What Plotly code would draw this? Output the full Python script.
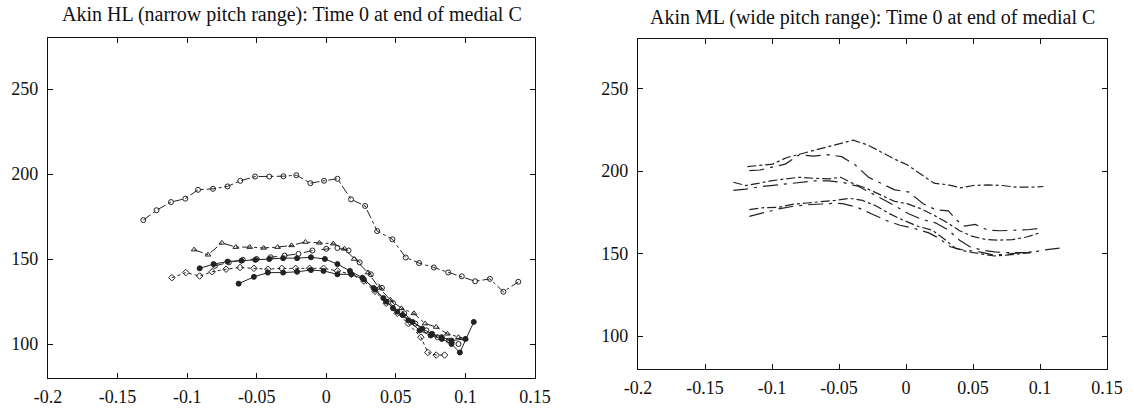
import plotly.graph_objects as go

# ---------------- data: left panel (Akin HL) ----------------
hl1_x = [-0.1315, -0.122, -0.1116, -0.1013, -0.0922, -0.0814, -0.071, -0.0618, -0.0512, -0.041,
         -0.0308, -0.0215, -0.0114, -0.0016, 0.008, 0.0178, 0.0279, 0.0366, 0.0475, 0.0571,
         0.0667, 0.0773, 0.0876, 0.0974, 0.107, 0.1176, 0.1273, 0.138]
hl1_y = [172.9, 178.7, 183.5, 185.5, 190.7, 191.3, 192.7, 196.0, 198.5, 198.5,
         198.7, 199.3, 194.6, 196.0, 197.2, 185.1, 181.2, 166.4, 161.6, 150.9,
         147.6, 145.0, 142.1, 139.8, 136.9, 138.3, 130.7, 136.6]

hl2_x = [-0.095, -0.085, -0.075, -0.065, -0.055, -0.045, -0.035, -0.025, -0.015, -0.005,
         0.005, 0.013, 0.020, 0.030, 0.038, 0.046, 0.054, 0.063, 0.071, 0.079, 0.087, 0.095, 0.100]
hl2_y = [155.5, 152.5, 159.5, 157.0, 157.0, 156.5, 157.0, 158.0, 160.0, 159.5,
         159.0, 156.0, 150.0, 142.0, 133.0, 126.0, 121.0, 118.0, 112.0, 110.0, 106.0, 104.0, 103.0]

hl3_x = [-0.091, -0.081, -0.071, -0.061, -0.051, -0.041, -0.031, -0.021, -0.011, -0.001,
         0.008, 0.017, 0.026, 0.035, 0.043, 0.051, 0.059, 0.067, 0.075, 0.083, 0.090, 0.096, 0.106]
hl3_y = [144.5, 147.0, 148.5, 149.0, 149.5, 150.0, 150.5, 150.5, 151.0, 150.0,
         147.0, 143.0, 139.0, 132.0, 125.0, 119.0, 114.0, 108.0, 105.0, 103.0, 100.0, 95.0, 113.0]

hl4_x = [-0.080, -0.070, -0.060, -0.050, -0.040, -0.030, -0.020, -0.010, 0.000, 0.008,
         0.016, 0.024, 0.032, 0.040, 0.048, 0.056, 0.064, 0.072, 0.080, 0.088, 0.095]
hl4_y = [146.0, 148.0, 149.5, 150.0, 151.0, 152.0, 153.0, 155.0, 156.0, 156.5,
         155.0, 148.0, 141.0, 133.0, 124.0, 118.0, 112.0, 108.0, 104.0, 102.0, 100.0]

hl5_x = [-0.111, -0.101, -0.091, -0.082, -0.072, -0.062, -0.052, -0.042, -0.032, -0.022,
         -0.012, -0.002, 0.008, 0.018, 0.027, 0.035, 0.043, 0.051, 0.059, 0.068, 0.073, 0.079, 0.085]
hl5_y = [139.0, 142.0, 140.0, 142.5, 144.0, 145.0, 144.5, 144.0, 144.5, 144.5,
         144.5, 144.5, 143.0, 141.0, 137.0, 131.0, 124.0, 118.0, 112.0, 104.0, 95.0, 93.5, 93.5]

hl6_x = [-0.063, -0.052, -0.042, -0.031, -0.021, -0.011, -0.002, 0.008, 0.018, 0.027,
         0.034, 0.041, 0.048, 0.055, 0.062, 0.069, 0.076, 0.083, 0.090, 0.100]
hl6_y = [135.5, 139.5, 142.0, 142.0, 142.5, 143.5, 143.0, 141.0, 141.0, 138.0,
         133.0, 127.0, 121.0, 117.0, 113.0, 109.0, 106.0, 104.0, 102.0, 103.0]

# ---------------- data: right panel (Akin ML) ----------------
ml1_x = [-0.1184, -0.0996, -0.0888, -0.0795, -0.0688, -0.0586, -0.0487, -0.0394, -0.0286, -0.0179,
         -0.0085, 0.0008, 0.011, 0.0209, 0.0316, 0.0409, 0.0503, 0.061, 0.0718, 0.0825, 0.0932, 0.1025]
ml1_y = [202.6, 204.2, 208.2, 210.2, 212.6, 214.8, 216.6, 218.7, 215.8, 211.2,
         207.2, 203.8, 198.2, 192.6, 191.6, 189.8, 191.2, 191.6, 191.2, 190.2, 190.2, 190.6]

ml2_x = [-0.1169, -0.109, -0.0901, -0.0795, -0.069, -0.058, -0.048, -0.038, -0.028, -0.018,
         -0.0085, 0.0022, 0.0128, 0.022, 0.0316, 0.038, 0.0437, 0.0517, 0.061, 0.0703, 0.080, 0.091, 0.0998]
ml2_y = [200.2, 200.6, 204.2, 209.9, 209.0, 209.9, 208.7, 203.8, 196.2, 192.2,
         188.6, 187.2, 180.2, 176.6, 175.8, 170.1, 166.6, 167.6, 164.2, 163.8, 164.0, 164.4, 165.2]

ml3_x = [-0.1289, -0.1196, -0.1103, -0.101, -0.0901, -0.0795, -0.069, -0.058, -0.0487, -0.039,
         -0.029, -0.018, -0.0085, 0.0008, 0.011, 0.021, 0.030, 0.040, 0.049, 0.0597, 0.069, 0.0794, 0.090, 0.0998]
ml3_y = [193.2, 191.2, 192.5, 194.0, 195.2, 196.2, 195.6, 195.2, 196.2, 192.2,
         189.3, 185.2, 181.6, 180.2, 177.2, 173.1, 169.1, 163.8, 160.5, 158.5, 158.1, 158.4, 160.0, 162.5]

ml4_x = [-0.1289, -0.1196, -0.1094, -0.0996, -0.089, -0.079, -0.068, -0.0576, -0.047, -0.0353,
         -0.026, -0.0166, -0.0072, 0.0019, 0.0128, 0.022, 0.0316, 0.040, 0.048, 0.057,
         0.066, 0.075, 0.084, 0.093, 0.102, 0.1146]
ml4_y = [188.2, 189.0, 190.4, 191.2, 192.2, 193.0, 194.0, 194.0, 193.0, 190.6,
         186.8, 182.6, 178.4, 174.1, 170.4, 168.6, 164.2, 158.0, 154.0, 152.0,
         151.0, 150.5, 150.5, 150.5, 152.0, 153.2]

ml5_x = [-0.1169, -0.106, -0.095, -0.0848, -0.074, -0.063, -0.0527, -0.042, -0.0326, -0.0232,
         -0.0125, -0.0018, 0.0088, 0.0196, 0.029, 0.037, 0.046, 0.057, 0.066, 0.075, 0.085, 0.093]
ml5_y = [176.6, 177.8, 178.0, 179.8, 180.6, 181.2, 182.2, 183.4, 182.2, 179.2,
         174.2, 170.1, 166.5, 164.1, 158.5, 153.1, 151.1, 149.6, 148.5, 149.0, 150.0, 150.5]

ml6_x = [-0.1169, -0.106, -0.095, -0.085, -0.074, -0.063, -0.0527, -0.0473, -0.0366, -0.0259,
         -0.015, -0.0045, 0.0062, 0.017, 0.0249, 0.033, 0.043, 0.054, 0.065, 0.075, 0.085, 0.095]
ml6_y = [172.5, 174.8, 177.0, 178.5, 179.5, 180.0, 180.5, 180.2, 178.1, 174.1,
         170.1, 167.1, 165.2, 162.5, 159.1, 154.1, 152.1, 151.1, 149.1, 149.5, 150.5, 151.0]

x_tickvals = [-0.2, -0.15, -0.1, -0.05, 0, 0.05, 0.1, 0.15]
x_ticktext = ["-0.2", "-0.15", "-0.1", "-0.05", "0", "0.05", "0.1", "0.15"]
y_tickvals = [100, 150, 200, 250]
y_ticktext = ["100", "150", "200", "250"]

title_left = "Akin HL (narrow pitch range): Time 0 at end of medial C"
title_right = "Akin ML (wide pitch range): Time 0 at end of medial C"

# ---------------- figure ----------------
FONT = "Liberation Serif, Times New Roman, serif"
W, H = 1134, 408
fig = go.Figure()

left_series = [
    (hl1_x, hl1_y, "dashdot", "circle-open"),
    (hl2_x, hl2_y, "dashdot", "triangle-up-open"),
    (hl3_x, hl3_y, "solid", "circle"),
    (hl4_x, hl4_y, "dash", "circle-open"),
    (hl5_x, hl5_y, "dot", "diamond-open"),
    (hl6_x, hl6_y, "solid", "circle"),
]
for xs, ys, dash, sym in left_series:
    fig.add_trace(go.Scatter(x=xs, y=ys, mode="lines+markers", xaxis="x", yaxis="y",
                             line=dict(color="#222", width=1, dash=dash),
                             marker=dict(symbol=sym, size=5, color="#222",
                                         line=dict(color="#222", width=1)),
                             showlegend=False, hoverinfo="skip"))

right_series = [
    (ml1_x, ml1_y, "dashdot"),
    (ml2_x, ml2_y, "longdashdot"),
    (ml3_x, ml3_y, "dashdot"),
    (ml4_x, ml4_y, "longdashdot"),
    (ml5_x, ml5_y, "dashdot"),
    (ml6_x, ml6_y, "longdashdot"),
]
for xs, ys, dash in right_series:
    fig.add_trace(go.Scatter(x=xs, y=ys, mode="lines", xaxis="x2", yaxis="y2",
                             line=dict(color="#222", width=1.2, dash=dash),
                             showlegend=False, hoverinfo="skip"))

TICK_SIZE = 18

def xax(domain, anchor):
    return dict(domain=domain, anchor=anchor, range=[-0.2, 0.15], tickmode="array",
                tickvals=x_tickvals, ticktext=x_ticktext, ticks="inside", ticklen=5,
                tickcolor="#111", showline=True, linecolor="#111", linewidth=1.2,
                mirror="ticks", showgrid=False, zeroline=False, automargin=False,
                ticklabelstandoff=2,
                tickfont=dict(family=FONT, size=TICK_SIZE, color="#111"))

def yax(domain, anchor):
    return dict(domain=domain, anchor=anchor, range=[80, 280], tickmode="array",
                tickvals=y_tickvals, ticktext=y_ticktext, ticks="inside", ticklen=5,
                tickcolor="#111", showline=True, linecolor="#111", linewidth=1.2,
                mirror="ticks", showgrid=False, zeroline=False, automargin=False,
                ticklabelstandoff=5,
                tickfont=dict(family=FONT, size=TICK_SIZE, color="#111"))

lx = [48 / W, 535 / W]
ly = [1 - 378 / H, 1 - 38 / H]
rx = [638 / W, 1107 / W]
ry = [1 - 369 / H, 1 - 39 / H]

fig.update_layout(
    width=W, height=H,
    margin=dict(l=0, r=0, t=0, b=0, autoexpand=False),
    paper_bgcolor="white", plot_bgcolor="white",
    xaxis=xax(lx, "y"), yaxis=yax(ly, "x"),
    xaxis2=xax(rx, "y2"), yaxis2=yax(ry, "x2"),
    annotations=[
        dict(text=title_left, x=(lx[0] + lx[1]) / 2, y=1 - 15 / H, xref="paper", yref="paper",
             showarrow=False, xanchor="center", yanchor="middle",
             font=dict(family=FONT, size=20, color="#111")),
        dict(text=title_right, x=(rx[0] + rx[1]) / 2, y=1 - 18 / H, xref="paper", yref="paper",
             showarrow=False, xanchor="center", yanchor="middle",
             font=dict(family=FONT, size=20, color="#111")),
    ],
)

fig.write_html("out.html", config={"displayModeBar": False, "staticPlot": True},
               post_script="document.body.style.margin='0';document.body.style.overflow='hidden';")
